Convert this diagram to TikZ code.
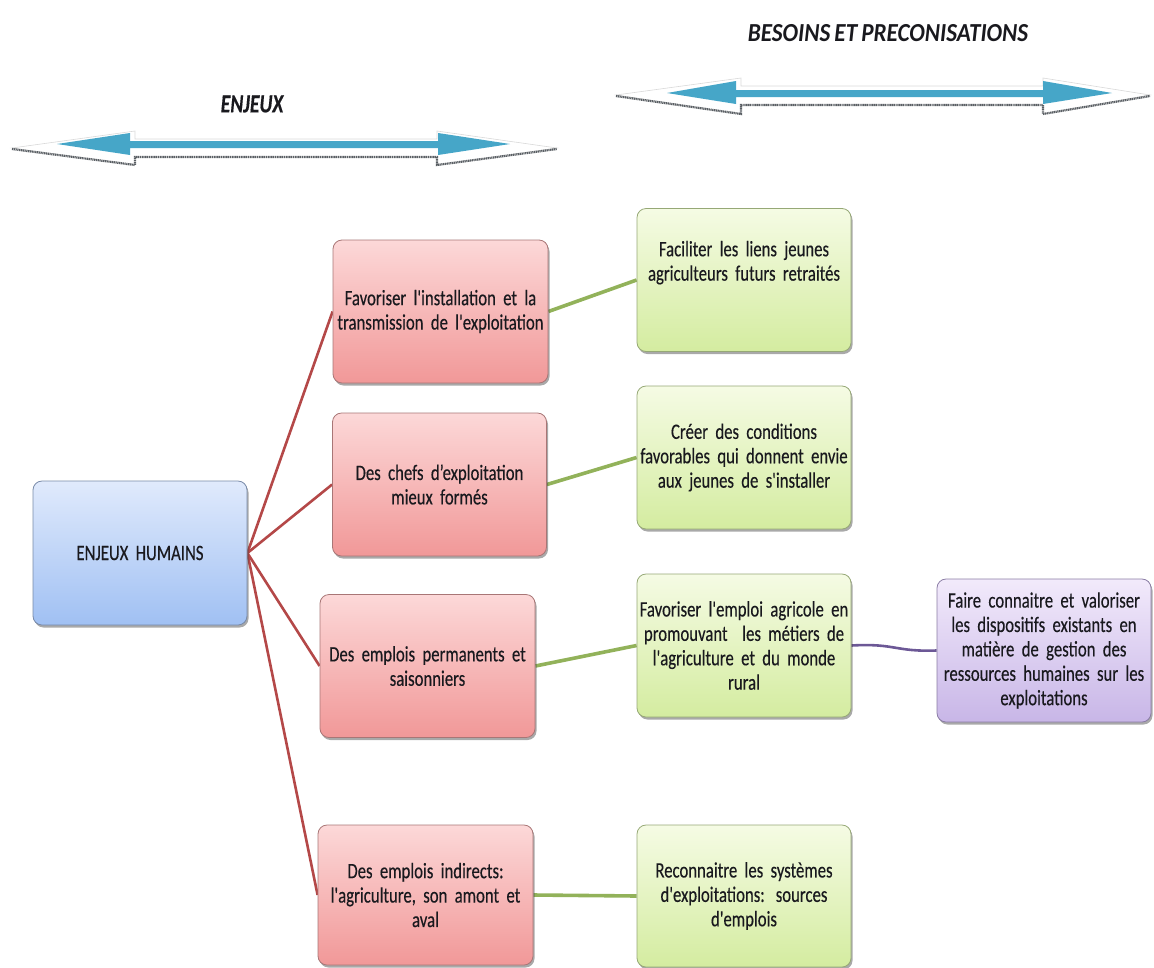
\documentclass[tikz,border=0pt]{standalone}
\usepackage{fontspec}
\setmainfont{Carlito}[FakeStretch=0.76, WordSpace=0.45, FakeBold=0.3, Ligatures=TeXOff]
\newfontfamily\titlewide{Carlito}[FakeStretch=0.89, WordSpace=0.8]
\usetikzlibrary{shadows,backgrounds}
\definecolor{bluetop}{RGB}{224,234,252}
\definecolor{bluebot}{RGB}{160,192,243}
\definecolor{blueedge}{RGB}{120,138,168}
\definecolor{redtop}{RGB}{252,216,216}
\definecolor{redbot}{RGB}{241,152,152}
\definecolor{rededge}{RGB}{168,118,118}
\definecolor{greentop}{RGB}{245,251,228}
\definecolor{greenbot}{RGB}{212,236,160}
\definecolor{greenedge}{RGB}{150,168,118}
\definecolor{purptop}{RGB}{242,234,251}
\definecolor{purpbot}{RGB}{200,182,231}
\definecolor{purpedge}{RGB}{138,124,164}
\definecolor{redline}{RGB}{180,72,72}
\definecolor{greenline}{RGB}{146,178,90}
\definecolor{purpline}{RGB}{108,88,150}
\definecolor{arrowblue}{RGB}{70,166,200}
\definecolor{shadowgray}{RGB}{90,95,100}
\definecolor{textdark}{RGB}{25,25,30}
\newcommand\boxfont{\fontsize{22}{24.4}\selectfont}
\tikzset{
  card/.style={rectangle, rounded corners=9pt, draw=#1, line width=0.8pt,
    minimum width=214pt, minimum height=143pt, text width=214pt, align=center,
    inner sep=0pt, font=\boxfont, text=textdark,
    drop shadow={shadow xshift=1.5pt, shadow yshift=-2.5pt, opacity=0.45, fill=black!75}},
  bluecard/.style={card=blueedge, top color=bluetop, bottom color=bluebot},
  redcard/.style={card=rededge, top color=redtop, bottom color=redbot},
  greencard/.style={card=greenedge, top color=greentop, bottom color=greenbot},
  purpcard/.style={card=purpedge, top color=purptop, bottom color=purpbot},
  redlink/.style={draw=redline, line width=2.6pt},
  greenlink/.style={draw=greenline, line width=3.6pt},
  purplink/.style={draw=purpline, line width=2.6pt},
  title/.style={font=\titlewide\fontsize{26}{30}\selectfont\bfseries\itshape, text=textdark},
  arrowouter/.style={fill=white, draw=gray!30, line width=0.6pt},
  arrowshadow/.style={draw=shadowgray, line width=2.2pt, dash pattern=on 1.2pt off 0.6pt},
  arrowinner/.style={fill=arrowblue, draw=none}
}
\begin{document}
\begin{tikzpicture}[x=1pt,y=-1pt]
\useasboundingbox (0,0) rectangle (1154,967);

% titles
\node[title, font=\fontsize{26}{30}\selectfont\bfseries\itshape] (tenjeux) at (252,104) {ENJEUX};
\node[title] (tbesoins) at (888,33) {BESOINS ET PRECONISATIONS};

% left double arrow
\path[arrowouter] (12,148) -- (135,131) -- (135,139) -- (437,139) -- (437,131) -- (557,148)
  -- (437,165) -- (437,157) -- (135,157) -- (135,165) -- cycle;
\draw[arrowshadow] (12,149) -- (135,165) -- (135,157) -- (437,157) -- (437,165) -- (557,149);
\path[arrowinner] (57,144) -- (130,133) -- (130,141) -- (438,141) -- (438,133) -- (510,144)
  -- (438,155) -- (438,148) -- (130,148) -- (130,155) -- cycle;

% right double arrow
\path[arrowouter] (616,95) -- (741,78) -- (741,86) -- (1043,86) -- (1043,78) -- (1150,95)
  -- (1043,114) -- (1043,105) -- (741,105) -- (741,114) -- cycle;
\draw[arrowshadow] (616,96) -- (741,114) -- (741,105) -- (1043,105) -- (1043,114) -- (1150,96);
\path[arrowinner] (667,93) -- (736,81) -- (736,90) -- (1043,90) -- (1043,81) -- (1112,93)
  -- (1043,104) -- (1043,97) -- (736,97) -- (736,104) -- cycle;

% nodes
\node[bluecard, minimum height=144pt] (h) at (140,553) {ENJEUX HUMAINS};

\node[redcard, minimum width=215pt] (r1) at (440.5,311.5) {Favoriser l'installation et la\\transmission de l'exploitation};
\node[redcard, minimum width=213pt] (r2) at (439.5,484.5) {Des chefs d’exploitation\\mieux formés};
\node[redcard, minimum width=215pt] (r3) at (427.5,666) {Des emplois permanents et\\saisonniers};
\node[redcard, minimum width=215pt, minimum height=140pt] (r4) at (425.5,895) {Des emplois indirects:\\l'agriculture, son amont et\\aval};

\node[greencard] (g1) at (744,280) {Faciliter les liens jeunes\\agriculteurs futurs retraités\\[14pt]\mbox{}};
\node[greencard] (g2) at (744,457.5) {Créer des conditions\\favorables qui donnent envie\\aux jeunes de s'installer};
\node[greencard] (g3) at (744,645.5) {Favoriser l'emploi agricole en\\promouvant\ \ les métiers de\\l'agriculture et du monde\\rural};
\node[greencard, minimum height=142pt] (g4) at (744,896) {Reconnaitre les systèmes\\d'exploitations: sources\\d'emplois};

\node[purpcard] (p) at (1044,650.5) {Faire connaitre et valoriser\\les dispositifs existants en\\matière de gestion des\\ressources humaines sur les\\exploitations};

% connectors
\begin{scope}[on background layer]
\draw[redlink] (h.east) -- (r1.west);
\draw[redlink] (h.east) -- (r2.west);
\draw[redlink] (h.east) -- (r3.west);
\draw[redlink] (h.east) -- (r4.west);
\draw[greenlink] (r1.east) -- (g1.west);
\draw[greenlink] (r2.east) -- (g2.west);
\draw[greenlink] (r3.east) -- (g3.west);
\draw[greenlink] (r4.east) -- (g4.west);
\draw[purplink] (g3.east) .. controls (895,643) and (895,652) .. (p.west);
\end{scope}
\end{tikzpicture}
\end{document}
